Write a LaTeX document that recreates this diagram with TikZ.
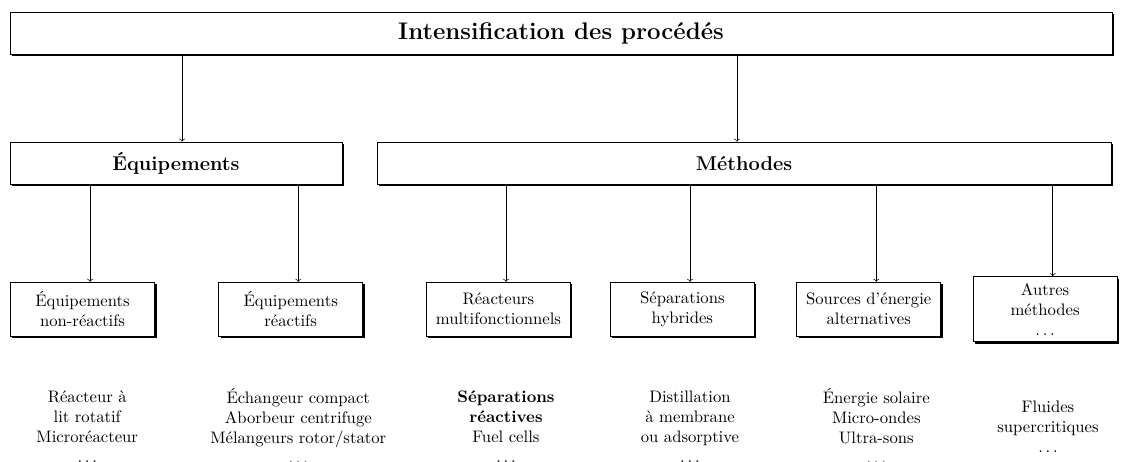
\documentclass[tikz,border=0pt]{standalone}
\usetikzlibrary{shadows}
\begin{document}
\begin{tikzpicture}[
    boite/.style={draw, fill=white, align=center,
      drop shadow={shadow xshift=1.2pt, shadow yshift=-1.2pt, fill=black, opacity=1}},
    branche/.style={boite, font=\large\bfseries, minimum height=0.89cm},
    titre/.style={branche, font=\Large\bfseries},
    famille/.style={boite, text width=2.9cm, inner xsep=2pt, inner ysep=4pt, minimum height=1.14cm},
    liste/.style={align=center},
    fleche/.style={->}
  ]
  \useasboundingbox (0,0) rectangle (23.64,-9.74);
  % niveaux 1 et 2
  \node[titre, minimum width=23.24cm] (ip) at (11.83,-0.70) {Intensification des procédés};
  \node[branche, minimum width=7.00cm] (equip) at (3.71,-3.44) {Équipements};
  \node[branche, minimum width=15.48cm] (meth) at (15.69,-3.44) {Méthodes};
  % familles
  \node[famille] (nonreac) at (1.74,-6.52) {Équipements\\non-réactifs};
  \node[famille] (reac) at (6.13,-6.52) {Équipements\\réactifs};
  \node[famille] (multi) at (10.51,-6.52) {Réacteurs\\multifonctionnels};
  \node[famille] (hybr) at (14.39,-6.52) {Séparations\\hybrides};
  \node[famille] (energ) at (18.32,-6.52) {Sources d'énergie\\alternatives};
  \node[famille] (autres) at (22.04,-6.52) {Autres\\méthodes\\$\ldots$};
  % exemples
  \node[liste] (ex1) at (1.84,-8.99) {Réacteur à\\lit rotatif\\Microréacteur\\$\ldots$};
  \node[liste] (ex2) at (6.29,-8.99) {Échangeur compact\\Aborbeur centrifuge\\Mélangeurs rotor/stator\\$\ldots$};
  \node[liste] (ex3) at (10.67,-8.99) {\textbf{Séparations}\\\textbf{réactives}\\Fuel cells\\$\ldots$};
  \node[liste] (ex4) at (14.55,-8.99) {Distillation\\à membrane\\ou adsorptive\\$\ldots$};
  \node[liste] (ex5) at (18.48,-8.99) {Énergie solaire\\Micro-ondes\\Ultra-sons\\$\ldots$};
  \node[liste] (ex6) at (22.10,-8.99) {Fluides\\supercritiques\\$\ldots$};
  % fleches
  \coordinate (pe) at ([xshift=0.13cm]equip.north);
  \coordinate (pm) at ([xshift=-0.15cm]meth.north);
  \coordinate (p1) at ([xshift=0.16cm]nonreac.north);
  \coordinate (p2) at ([xshift=0.16cm]reac.north);
  \coordinate (p3) at ([xshift=0.16cm]multi.north);
  \coordinate (p4) at ([xshift=0.16cm]hybr.north);
  \coordinate (p5) at ([xshift=0.16cm]energ.north);
  \coordinate (p6) at ([xshift=0.16cm]autres.north);
  \draw[fleche] (ip.south -| pe) -- (pe);
  \draw[fleche] (ip.south -| pm) -- (pm);
  \draw[fleche] (equip.south -| p1) -- (p1);
  \draw[fleche] (equip.south -| p2) -- (p2);
  \draw[fleche] (meth.south -| p3) -- (p3);
  \draw[fleche] (meth.south -| p4) -- (p4);
  \draw[fleche] (meth.south -| p5) -- (p5);
  \draw[fleche] (meth.south -| p6) -- (p6);
\end{tikzpicture}
\end{document}
